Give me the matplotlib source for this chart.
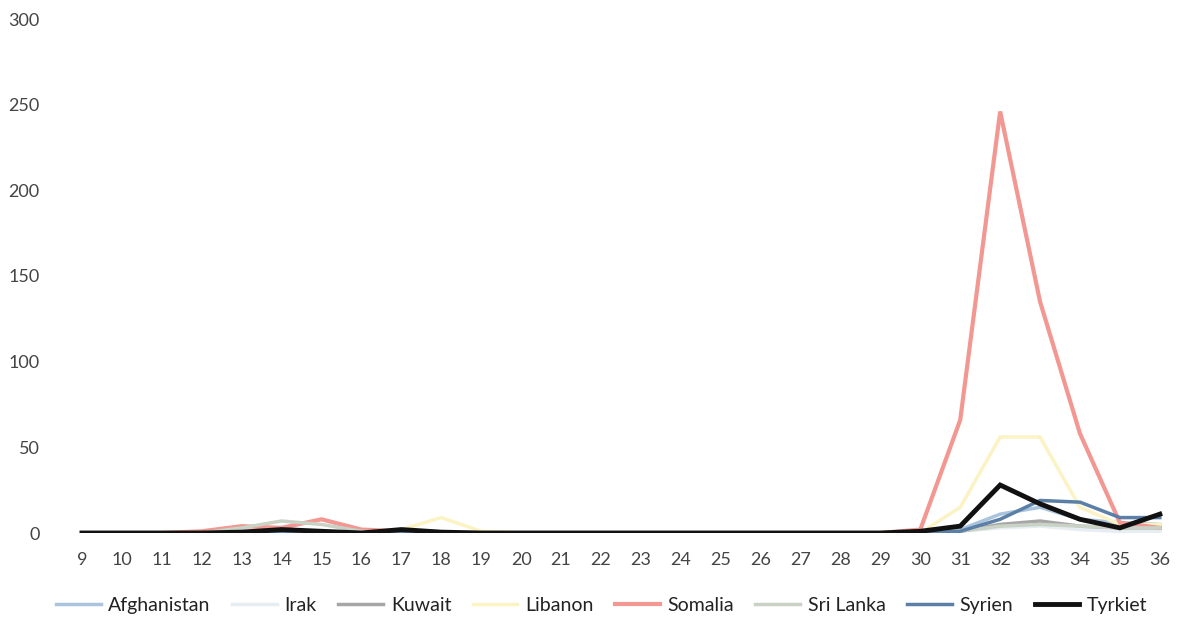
import matplotlib.pyplot as plt

weeks = list(range(9, 37))

# weeks 9-18 | weeks 19-29 | weeks 30-36
afghanistan = [0, 0, 0, 0, 1, 1, 1, 0, 0, 0] + [0] * 11 + [0, 2, 11, 15, 8, 6, 5]
irak = [0, 0, 0, 0, 0, 1, 0, 0, 0, 0] + [0] * 11 + [0, 1, 3, 4, 2, 1, 1]
kuwait = [0, 0, 0, 0, 0, 0, 0, 0, 0, 0] + [0] * 11 + [0, 1, 5, 7, 4, 3, 3]
libanon = [0, 0, 0, 0, 0, 1, 1, 0, 2, 9] + [1] + [0] * 10 + [0, 15, 56, 56, 15, 5, 5]
somalia = [0, 0, 0, 1, 4, 3, 8, 2, 1, 0] + [0] * 11 + [2, 66, 246, 135, 58, 6, 3]
sri_lanka = [0, 0, 0, 0, 3, 7, 5, 1, 0, 0] + [0] * 11 + [0, 1, 4, 5, 4, 3, 3]
syrien = [0, 0, 0, 0, 0, 0, 0, 0, 0, 0] + [0] * 11 + [0, 1, 8, 19, 18, 9, 9]
tyrkiet = [0, 0, 0, 0, 0.5, 2, 1, 0, 2, 0.5] + [0] * 11 + [1, 4, 28, 17, 8, 3, 11]

series = [
    ("Afghanistan", afghanistan, "#a9c4dc", 2.5),
    ("Irak", irak, "#e6edf3", 2.5),
    ("Kuwait", kuwait, "#a6a6a6", 2.5),
    ("Libanon", libanon, "#fbf3c4", 2.5),
    ("Somalia", somalia, "#f29791", 3),
    ("Sri Lanka", sri_lanka, "#c9d2c4", 2.5),
    ("Syrien", syrien, "#5b7fa6", 2.5),
    ("Tyrkiet", tyrkiet, "#111111", 3.5),
]

plt.rcParams['font.family'] = ['Lato', 'DejaVu Sans']

fig = plt.figure(figsize=(11.78, 6.19), dpi=100)
ax = fig.add_axes([62 / 1178, 86 / 619, (1175 - 62) / 1178, (533 - 19) / 619])

for name, vals, col, lw in series:
    ax.plot(weeks, vals, color=col, lw=lw, label=name, solid_joinstyle="miter")

ax.set_xlim(8.5, 36.38)
ax.set_ylim(0, 300)
ax.set_yticks([0, 50, 100, 150, 200, 250, 300])
ax.set_xticks(weeks)
for s in ax.spines.values():
    s.set_visible(False)
ax.tick_params(axis="both", length=0, labelsize=13, colors="#444444")
ax.tick_params(axis="y", pad=16)
ax.tick_params(axis="x", pad=14)

ax.legend(loc="upper center", bbox_to_anchor=(0.485, -0.09), ncol=8, frameon=False,
          fontsize=14, handlelength=2.3, handletextpad=0.4, columnspacing=1.1,
          labelcolor="#222222")

fig.savefig("out.png", dpi=100)
